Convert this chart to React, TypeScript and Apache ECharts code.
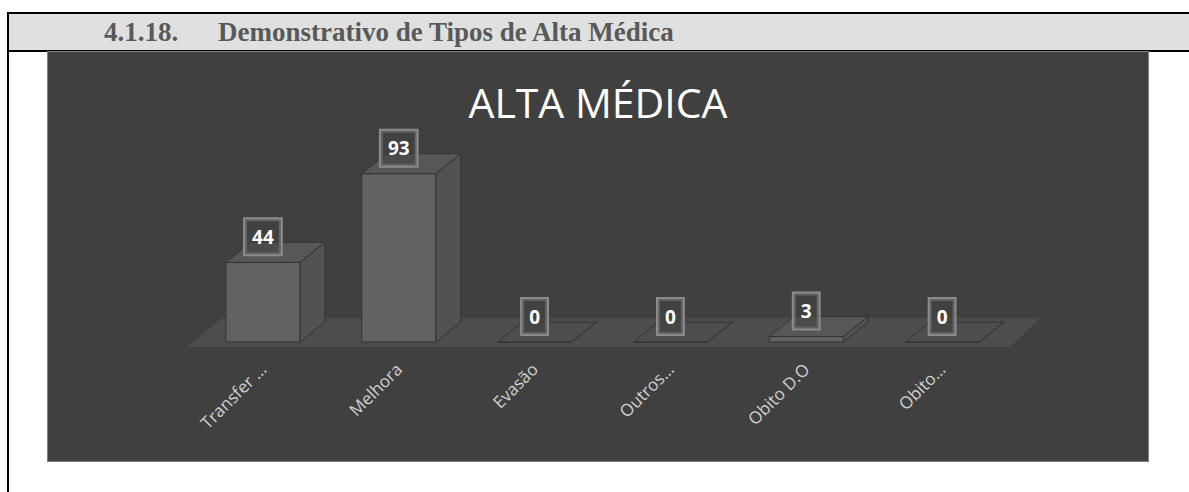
import React, { useEffect, useRef } from "react";
import * as echarts from "echarts";

const categories = ["Transfer …", "Melhora", "Evasão", "Outros…", "Obito D.O", "Obito…"];
const values = [44, 93, 0, 0, 3, 0];
const chartTitle = "ALTA MÉDICA";
const sectionNumber = "4.1.18.";
const sectionTitle = "Demonstrativo de Tipos de Alta Médica";

export default function App() {
  const ref = useRef<HTMLDivElement>(null);

  useEffect(() => {
    if (!ref.current) return;
    const chart = echarts.init(ref.current, undefined, { renderer: "svg" });
    const barRatio = 0.545;
    const dx = 25;
    const dy = -20;
    chart.setOption({
      animation: false,
      backgroundColor: "#404040",
      title: {
        text: chartTitle,
        left: "center",
        top: 24,
        textStyle: { color: "#ffffff", fontSize: 41, fontWeight: "normal", fontFamily: "Open Sans" },
      },
      grid: { left: 147, right: 138, top: 109, bottom: 119 },
      xAxis: {
        type: "category",
        data: categories,
        axisLine: { show: false },
        axisTick: { show: false },
        axisLabel: {
          rotate: 45,
          interval: 0,
          margin: 24,
          color: "#d0d0d0",
          fontSize: 17,
          fontFamily: "Open Sans",
        },
      },
      yAxis: {
        type: "value",
        min: 0,
        max: 100,
        show: false,
        splitLine: { show: false },
      },
      series: [
        {
          type: "custom",
          z: 1,
          data: [[0, 0]],
          encode: { x: 0, y: 1 },
          silent: true,
          renderItem: (params: any, api: any) => {
            const band = api.size([1, 0])[0];
            const a = api.coord([0, 0]);
            const b = api.coord([categories.length - 1, 0]);
            const xl = a[0] - band / 2;
            const xr = b[0] + band / 2;
            const y = a[1];
            return {
              type: "polygon",
              shape: {
                points: [
                  [xl - 8, y + 5],
                  [xr, y + 5],
                  [xr + 30, y - 24],
                  [xl + 27, y - 24],
                ],
              },
              style: { fill: "#4d4d4d", stroke: "#494949", lineWidth: 1 },
            };
          },
        },
        {
          type: "custom",
          z: 2,
          data: categories.map((c, i) => [i, values[i]]),
          encode: { x: 0, y: 1 },
          renderItem: (params: any, api: any) => {
            const i = api.value(0);
            const v = api.value(1);
            const base = api.coord([i, 0]);
            const top = api.coord([i, v]);
            const band = api.size([1, 0])[0];
            const w = band * barRatio;
            const x0 = base[0] - w / 2;
            const x1 = base[0] + w / 2;
            const yb = base[1];
            const yt = top[1];
            const edge = "#333333";
            return {
              type: "group",
              children: [
                {
                  type: "polygon",
                  shape: { points: [[x1, yb], [x1 + dx, yb + dy], [x1 + dx, yt + dy], [x1, yt]] },
                  style: { fill: "#525252", stroke: edge, lineWidth: 1 },
                },
                {
                  type: "polygon",
                  shape: { points: [[x0, yb], [x1, yb], [x1, yt], [x0, yt]] },
                  style: { fill: "#626262", stroke: edge, lineWidth: 1 },
                },
                {
                  type: "polygon",
                  shape: { points: [[x0, yt], [x1, yt], [x1 + dx, yt + dy], [x0 + dx, yt + dy]] },
                  style: { fill: v > 0 ? "#575757" : "#4d4d4d", stroke: edge, lineWidth: 1 },
                },
              ],
            };
          },
        },
        {
          type: "bar",
          z: 3,
          data: values,
          barWidth: "54.5%",
          silent: true,
          itemStyle: { color: "rgba(0,0,0,0)" },
          label: {
            show: true,
            position: "top",
            distance: 8,
            color: "#ffffff",
            fontSize: 19,
            fontWeight: "bold",
            fontFamily: "Open Sans",
            lineHeight: 21,
            backgroundColor: "rgba(66,66,66,0.55)",
            borderColor: "#8c8c8c",
            borderWidth: 2,
            padding: [7, 7, 7, 7],
          },
        },
      ],
    });
    return () => chart.dispose();
  }, []);

  const headerFont: React.CSSProperties = {
    position: "absolute",
    top: 14,
    fontFamily: "'Liberation Serif', serif",
    fontWeight: "bold",
    fontSize: 27,
    lineHeight: "36px",
    color: "#595959",
    whiteSpace: "nowrap",
  };

  return (
    <div style={{ position: "absolute", left: 0, top: 0, width: 1189, height: 492, background: "#ffffff", overflow: "hidden" }}>
      <div
        style={{
          position: "absolute",
          left: 7,
          top: 12,
          width: 1182,
          height: 36,
          background: "#e0e0e0",
          borderTop: "2px solid #000",
          borderBottom: "2px solid #000",
        }}
      />
      <div style={{ position: "absolute", left: 7, top: 12, width: 2, height: 480, background: "#000" }} />
      <div style={{ ...headerFont, left: 104 }}>{sectionNumber}</div>
      <div style={{ ...headerFont, left: 218 }}>{sectionTitle}</div>
      <div
        style={{
          position: "absolute",
          left: 47,
          top: 51,
          width: 1100,
          height: 409,
          border: "1px solid #808080",
        }}
      >
        <div ref={ref} style={{ width: 1100, height: 409 }} />
      </div>
    </div>
  );
}
